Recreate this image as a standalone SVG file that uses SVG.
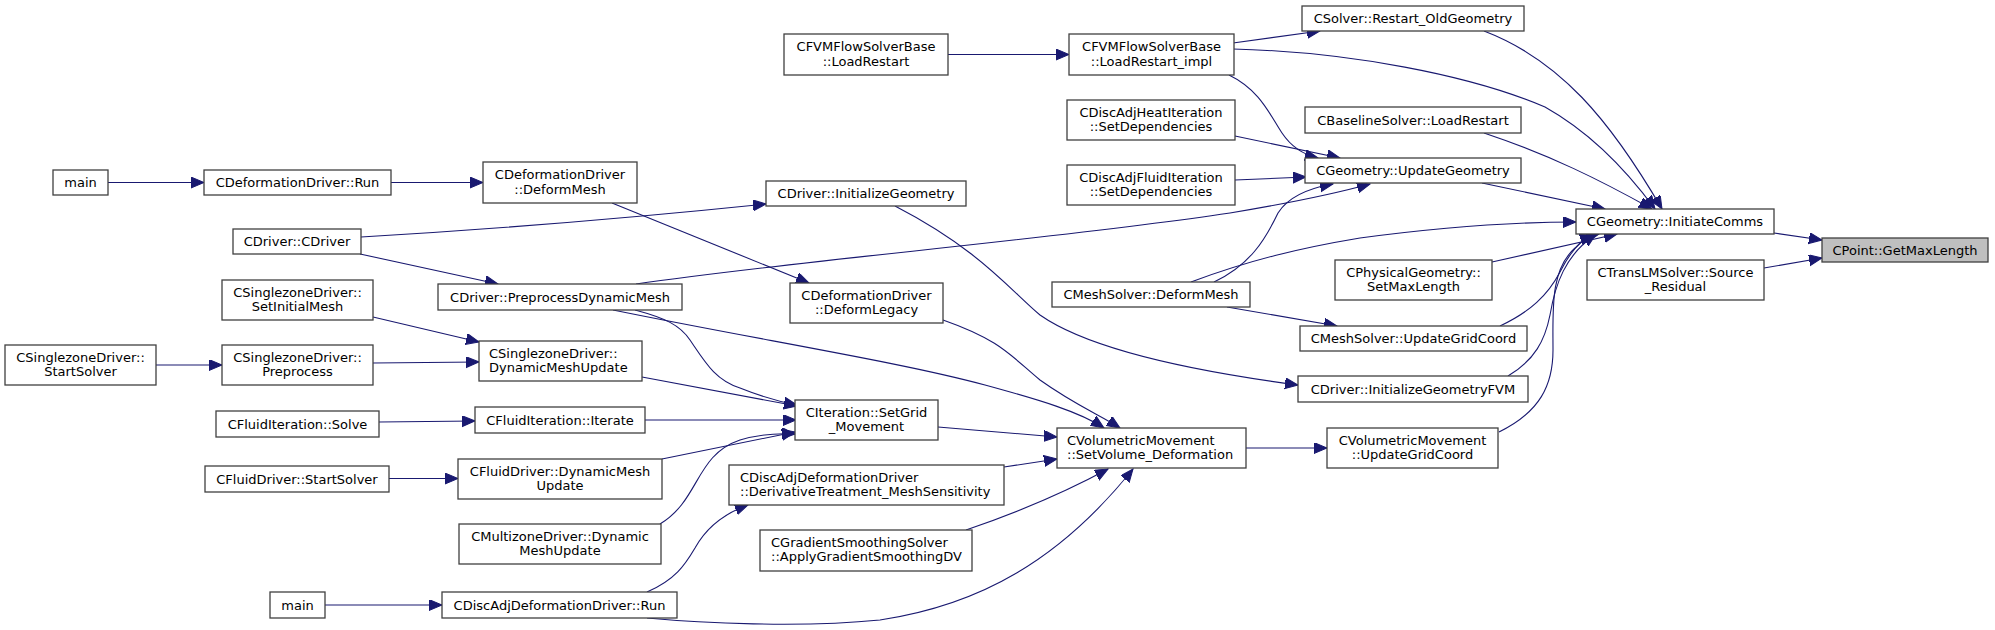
<svg xmlns="http://www.w3.org/2000/svg" width="1995" height="630" viewBox="0 0 1995 630">
<defs>
<marker id="ah" markerUnits="userSpaceOnUse" markerWidth="14" markerHeight="12" refX="13" refY="5.5" orient="auto">
<path d="M0,0 L13,5.5 L0,11 z" fill="#191970" stroke="#191970" stroke-width="1"/>
</marker>
<style>
.n rect{fill:#ffffff;stroke:#404040;stroke-width:1.3}
.n.hl rect{fill:#bfbfbf}
.n text{font-family:"DejaVu Sans",sans-serif;font-size:13px;fill:#000000;text-anchor:middle}
.n text.l{text-anchor:start}
#edges path{fill:none;stroke:#191970;stroke-width:1.1;marker-end:url(#ah)}
</style>
</defs>
<rect width="1995" height="630" fill="#ffffff"/>

<g id="edges">
<path d="M108,182.5 L204,182.5"/>
<path d="M391,182.5 L483,182.5"/>
<path d="M612,203 L809,283"/>
<path d="M361,237 C480,230 640,217 766,204"/>
<path d="M360,254 L498,284"/>
<path d="M373,317 L479,342"/>
<path d="M156,365 L222,365"/>
<path d="M373,363 L479,362"/>
<path d="M379,422 L475,421"/>
<path d="M389,478.5 L458,478.5"/>
<path d="M325,605 L442,605"/>
<path d="M642,377 L797,406"/>
<path d="M645,420 L796,420"/>
<path d="M662,459 L795,432"/>
<path d="M660,524 C700,500 695,455 740,440 C760,434 778,433 795,434"/>
<path d="M635,310 C665,318 680,325 690,340 C705,362 715,380 740,388 C760,396 775,401 797,405"/>
<path d="M613,310 C760,340 900,362 985,385 C1040,400 1080,412 1104,428"/>
<path d="M943,320 C1000,340 1010,355 1040,380 C1075,405 1100,415 1120,428"/>
<path d="M938,427 L1057,437"/>
<path d="M1004,467 L1057,459"/>
<path d="M966,530 C1010,515 1060,495 1108,469"/>
<path d="M647,618 C700,623 800,628 880,620 C980,605 1060,560 1133,469"/>
<path d="M647,592 C675,580 685,565 695,548 C705,530 720,515 748,505"/>
<path d="M895,206 C980,250 1010,290 1040,315 C1090,350 1200,372 1298,385"/>
<path d="M948,54.5 L1069,54.5"/>
<path d="M1233,43 L1320,31"/>
<path d="M1233,49 C1350,52 1470,75 1545,107 C1595,135 1630,175 1655,209"/>
<path d="M1229,75 C1260,90 1270,115 1282,133 C1292,148 1305,155 1318,158"/>
<path d="M1235,136 L1340,158"/>
<path d="M1235,180 L1306,177"/>
<path d="M1214,282 C1250,265 1265,240 1278,213 C1288,197 1310,188 1333,184"/>
<path d="M636,284 C800,260 1050,240 1230,213 C1290,203 1330,195 1370,184"/>
<path d="M1191,282 C1250,260 1300,248 1360,238 C1450,226 1520,222 1576,222"/>
<path d="M1227,307 L1337,326"/>
<path d="M1484,31 C1560,60 1610,120 1662,209"/>
<path d="M1484,133 C1550,155 1600,180 1652,209"/>
<path d="M1482,183 L1605,209"/>
<path d="M1492,262 L1617,234"/>
<path d="M1500,326 C1530,312 1548,295 1560,272 C1570,252 1580,240 1593,235"/>
<path d="M1508,376 C1535,360 1545,340 1550,315 C1555,285 1565,255 1596,234"/>
<path d="M1499,432 C1540,412 1553,385 1553,350 C1553,310 1550,270 1575,248 C1582,240 1590,236 1599,234"/>
<path d="M1246,448 L1327,448"/>
<path d="M1774,233 L1822,240"/>
<path d="M1764,268 L1822,258"/>
</g>

<g id="n_main1" class="n"><rect x="53" y="170" width="55" height="25"/><text x="80.5" y="187">main</text></g>
<g id="n_defRun" class="n"><rect x="204" y="170" width="187" height="25"/><text x="297.5" y="187">CDeformationDriver::Run</text></g>
<g id="n_defMesh" class="n"><rect x="483" y="162" width="154" height="41"/><text x="560" y="179">CDeformationDriver</text><text x="560" y="193.5">::DeformMesh</text></g>
<g id="n_cdriver" class="n"><rect x="233" y="229" width="128" height="25"/><text x="297" y="246">CDriver::CDriver</text></g>
<g id="n_szInit" class="n"><rect x="222" y="280" width="151" height="40"/><text x="297.5" y="296.5">CSinglezoneDriver::</text><text x="297.5" y="311">SetInitialMesh</text></g>
<g id="n_preDyn" class="n"><rect x="438" y="284" width="244" height="26"/><text x="560" y="301.5">CDriver::PreprocessDynamicMesh</text></g>
<g id="n_szStart" class="n"><rect x="5" y="345" width="151" height="40"/><text x="80.5" y="361.5">CSinglezoneDriver::</text><text x="80.5" y="376">StartSolver</text></g>
<g id="n_szPre" class="n"><rect x="222" y="345" width="151" height="40"/><text x="297.5" y="361.5">CSinglezoneDriver::</text><text x="297.5" y="376">Preprocess</text></g>
<g id="n_szDyn" class="n"><rect x="479" y="341" width="163" height="40"/><text class="l" x="489" y="357.5">CSinglezoneDriver::</text><text class="l" x="489" y="372">DynamicMeshUpdate</text></g>
<g id="n_fiSolve" class="n"><rect x="216" y="411" width="163" height="26"/><text x="297.5" y="428.5">CFluidIteration::Solve</text></g>
<g id="n_fiIter" class="n"><rect x="475" y="407" width="170" height="26"/><text x="560" y="424.5">CFluidIteration::Iterate</text></g>
<g id="n_fdStart" class="n"><rect x="205" y="466" width="184" height="26"/><text x="297" y="483.5">CFluidDriver::StartSolver</text></g>
<g id="n_fdDyn" class="n"><rect x="458" y="459" width="204" height="40"/><text x="560" y="475.5">CFluidDriver::DynamicMesh</text><text x="560" y="490">Update</text></g>
<g id="n_mzDyn" class="n"><rect x="459" y="524" width="202" height="40"/><text x="560" y="540.5">CMultizoneDriver::Dynamic</text><text x="560" y="555">MeshUpdate</text></g>
<g id="n_main2" class="n"><rect x="270" y="592" width="55" height="26"/><text x="297.5" y="609.5">main</text></g>
<g id="n_daRun" class="n"><rect x="442" y="592" width="235" height="26"/><text x="559.5" y="609.5">CDiscAdjDeformationDriver::Run</text></g>
<g id="n_fvmLR" class="n"><rect x="784" y="34" width="164" height="41"/><text x="866" y="51">CFVMFlowSolverBase</text><text x="866" y="65.5">::LoadRestart</text></g>
<g id="n_fvmLRi" class="n"><rect x="1069" y="34" width="165" height="41"/><text x="1151.5" y="51">CFVMFlowSolverBase</text><text x="1151.5" y="65.5">::LoadRestart_impl</text></g>
<g id="n_daHeat" class="n"><rect x="1067" y="100" width="168" height="40"/><text x="1151" y="116.5">CDiscAdjHeatIteration</text><text x="1151" y="131">::SetDependencies</text></g>
<g id="n_daFluid" class="n"><rect x="1067" y="165" width="168" height="40"/><text x="1151" y="181.5">CDiscAdjFluidIteration</text><text x="1151" y="196">::SetDependencies</text></g>
<g id="n_initGeo" class="n"><rect x="766" y="181" width="200" height="25"/><text x="866" y="198">CDriver::InitializeGeometry</text></g>
<g id="n_defLeg" class="n"><rect x="790" y="283" width="153" height="40"/><text x="866.5" y="299.5">CDeformationDriver</text><text x="866.5" y="314">::DeformLegacy</text></g>
<g id="n_msDef" class="n"><rect x="1052" y="282" width="198" height="25"/><text x="1151" y="299">CMeshSolver::DeformMesh</text></g>
<g id="n_setGrid" class="n"><rect x="795" y="400" width="143" height="40"/><text x="866.5" y="416.5">CIteration::SetGrid</text><text x="866.5" y="431">_Movement</text></g>
<g id="n_setVol" class="n"><rect x="1057" y="428" width="189" height="40"/><text class="l" x="1067" y="444.5">CVolumetricMovement</text><text class="l" x="1067" y="459">::SetVolume_Deformation</text></g>
<g id="n_derTr" class="n"><rect x="729" y="465" width="275" height="40"/><text class="l" x="740" y="481.5">CDiscAdjDeformationDriver</text><text class="l" x="740" y="496">::DerivativeTreatment_MeshSensitivity</text></g>
<g id="n_grad" class="n"><rect x="760" y="530" width="212" height="41"/><text class="l" x="771" y="546.5">CGradientSmoothingSolver</text><text class="l" x="771" y="561">::ApplyGradientSmoothingDV</text></g>
<g id="n_restOld" class="n"><rect x="1302" y="6" width="222" height="25"/><text x="1413" y="23">CSolver::Restart_OldGeometry</text></g>
<g id="n_baseLR" class="n"><rect x="1305" y="107" width="216" height="26"/><text x="1413" y="124.5">CBaselineSolver::LoadRestart</text></g>
<g id="n_updGeo" class="n"><rect x="1305" y="158" width="216" height="25"/><text x="1413" y="175">CGeometry::UpdateGeometry</text></g>
<g id="n_initComms" class="n"><rect x="1576" y="209" width="198" height="25"/><text x="1675" y="226">CGeometry::InitiateComms</text></g>
<g id="n_getMax" class="n hl"><rect x="1822" y="238" width="166" height="24"/><text x="1905" y="254.5">CPoint::GetMaxLength</text></g>
<g id="n_transLM" class="n"><rect x="1587" y="260" width="177" height="40"/><text x="1675.5" y="276.5">CTransLMSolver::Source</text><text x="1675.5" y="291">_Residual</text></g>
<g id="n_physMax" class="n"><rect x="1335" y="260" width="157" height="40"/><text x="1413.5" y="276.5">CPhysicalGeometry::</text><text x="1413.5" y="291">SetMaxLength</text></g>
<g id="n_msUpd" class="n"><rect x="1300" y="326" width="227" height="25"/><text x="1413.5" y="343">CMeshSolver::UpdateGridCoord</text></g>
<g id="n_initFVM" class="n"><rect x="1298" y="376" width="230" height="26"/><text x="1413" y="393.5">CDriver::InitializeGeometryFVM</text></g>
<g id="n_vmUpd" class="n"><rect x="1327" y="428" width="171" height="40"/><text x="1412.5" y="444.5">CVolumetricMovement</text><text x="1412.5" y="459">::UpdateGridCoord</text></g>
</svg>
